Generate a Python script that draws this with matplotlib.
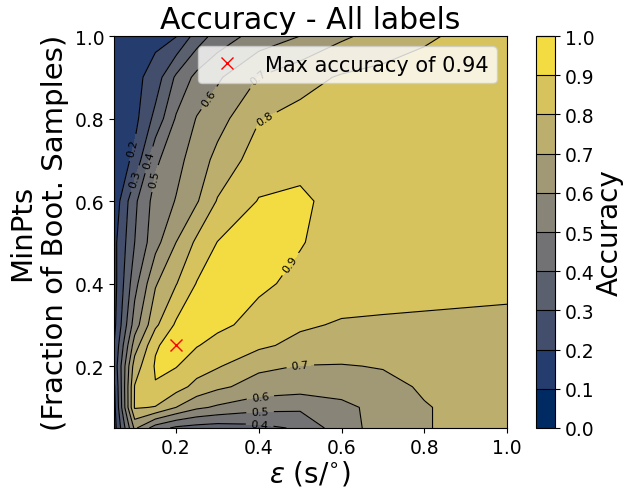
import numpy as np
import matplotlib
matplotlib.use('Agg')
import matplotlib.pyplot as plt

# grid of epsilon (s/deg) and MinPts (fraction of bootstrap samples)
eps = [0.05, 0.1, 0.15, 0.2, 0.25, 0.3, 0.4, 0.5, 0.6, 0.7, 0.8, 0.9, 1.0]
minpts = [0.05, 0.1, 0.15, 0.2, 0.25, 0.3, 0.4, 0.5, 0.6, 0.7, 0.8, 0.9, 1.0]

# accuracy, one row per minpts value (bottom -> top), columns follow eps
acc_005 = [0.15, 0.62, 0.45, 0.38, 0.36, 0.35, 0.37, 0.415, 0.56, 0.64, 0.695, 0.72, 0.73]
acc_010 = [0.16, 0.81, 0.795, 0.70, 0.62, 0.585, 0.535, 0.52, 0.57, 0.64, 0.695, 0.72, 0.73]
acc_015 = [0.18, 0.805, 0.895, 0.84, 0.77, 0.72, 0.66, 0.645, 0.65, 0.675, 0.71, 0.725, 0.735]
acc_020 = [0.22, 0.75, 0.91, 0.905, 0.845, 0.81, 0.72, 0.697, 0.695, 0.705, 0.725, 0.735, 0.74]
acc_025 = [0.20, 0.65, 0.89, 0.94, 0.905, 0.87, 0.82, 0.77, 0.75, 0.745, 0.745, 0.745, 0.745]
acc_030 = [0.17, 0.55, 0.78, 0.915, 0.935, 0.92, 0.87, 0.815, 0.79, 0.785, 0.78, 0.775, 0.77]
acc_040 = [0.16, 0.465, 0.69, 0.795, 0.905, 0.925, 0.915, 0.88, 0.855, 0.845, 0.84, 0.835, 0.83]
acc_050 = [0.17, 0.40, 0.565, 0.70, 0.82, 0.902, 0.925, 0.905, 0.865, 0.855, 0.85, 0.85, 0.85]
acc_060 = [0.13, 0.38, 0.54, 0.605, 0.69, 0.807, 0.905, 0.915, 0.87, 0.86, 0.86, 0.86, 0.86]
acc_070 = [0.12, 0.225, 0.48, 0.57, 0.645, 0.73, 0.85, 0.875, 0.865, 0.86, 0.86, 0.86, 0.86]
acc_080 = [0.13, 0.17, 0.33, 0.51, 0.605, 0.66, 0.795, 0.83, 0.85, 0.86, 0.86, 0.86, 0.86]
acc_090 = [0.13, 0.17, 0.245, 0.417, 0.529, 0.585, 0.703, 0.765, 0.81, 0.83, 0.84, 0.85, 0.85]
acc_100 = [0.12, 0.15, 0.17, 0.195, 0.343, 0.443, 0.54, 0.60, 0.683, 0.738, 0.786, 0.82, 0.84]

best_eps = 0.2
best_minpts = 0.25
best_acc = 0.94

acc = np.array([acc_005, acc_010, acc_015, acc_020, acc_025, acc_030, acc_040,
                acc_050, acc_060, acc_070, acc_080, acc_090, acc_100])

levels = np.linspace(0, 1, 11)

# where the inline contour labels sit
label_spots = [(0.095, 0.73), (0.099, 0.655), (0.134, 0.70), (0.148, 0.655),
               (0.277, 0.852), (0.396, 0.903), (0.41, 0.806), (0.475, 0.448),
               (0.50, 0.205), (0.403, 0.137), (0.403, 0.094), (0.403, 0.065)]

fig = plt.figure(figsize=(6.24, 4.89), dpi=100)
ax = fig.add_axes([0.1827, 0.1227, 0.6298, 0.8016])
cax = fig.add_axes([0.859, 0.1227, 0.0305, 0.8016])

cf = ax.contourf(eps, minpts, acc, levels=levels, cmap='cividis')
cl = ax.contour(eps, minpts, acc, levels=levels, colors='k', linewidths=0.8)
ax.clabel(cl, fmt='%.1f', fontsize=8, manual=label_spots)

ax.plot(best_eps, best_minpts, 'x', color='red', markersize=9,
        label='Max accuracy of {}'.format(best_acc))
ax.legend(loc='upper right', fontsize=15)

ax.set_xlim(0.05, 1.0)
ax.set_ylim(0.05, 1.0)
ax.set_xticks([0.2, 0.4, 0.6, 0.8, 1.0])
ax.set_yticks([0.2, 0.4, 0.6, 0.8, 1.0])
ax.tick_params(labelsize=13.5)
ax.set_title('Accuracy - All labels', fontsize=21.5)
ax.set_xlabel(r'$\varepsilon$ (s/$^{\circ}$)', fontsize=20, labelpad=1)
ax.set_ylabel('MinPts\n(Fraction of Boot. Samples)', fontsize=21)

cbar = fig.colorbar(cf, cax=cax)
cbar.add_lines(cl)
cbar.set_ticks(levels)
cbar.ax.tick_params(labelsize=13.5)
cbar.set_label('Accuracy', fontsize=20, labelpad=1)

fig.savefig('out.png', dpi=100)
